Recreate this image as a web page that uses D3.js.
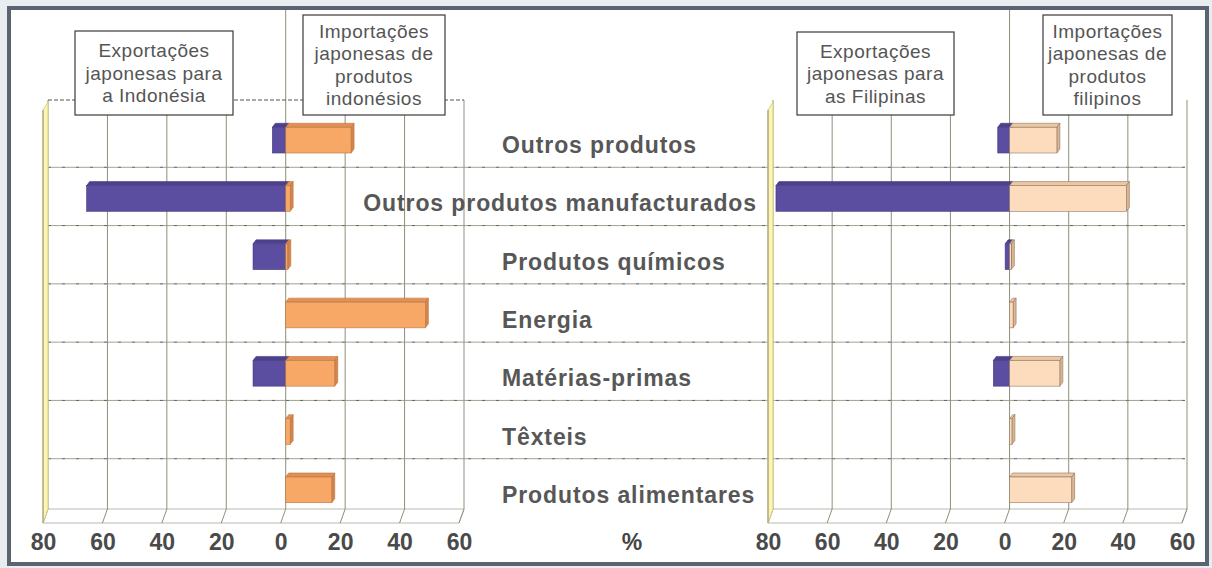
<!DOCTYPE html>
<html>
<head>
<meta charset="utf-8">
<script src="https://cdn.jsdelivr.net/npm/d3@7"></script>
<style>
  body { margin: 0; background: #e9edf0; }
  svg { display: block; }
  text { font-family: "Liberation Sans", Arial, sans-serif; }
</style>
</head>
<body>
<div id="chart"></div>
<script>
// categories, top to bottom
var categories = ["Outros produtos", "Outros produtos manufacturados", "Produtos químicos",
                  "Energia", "Matérias-primas", "Têxteis", "Produtos alimentares"];

// % values
var idnExports = [4.5, 67, 11, 0, 11, 0, 0];
var idnImports = [22, 1.5, 0.7, 47, 16.5, 1.5, 15.5];
var phlExports = [4, 79, 1.5, 0, 5.5, 0, 0];
var phlImports = [16, 39.5, 0.6, 1.2, 17, 0.8, 21];

var tickValues = [-80, -60, -40, -20, 0, 20, 40, 60];

var boxLeftExp = ["Exportações", "japonesas para", "a Indonésia"];
var boxLeftImp = ["Importações", "japonesas de", "produtos", "indonésios"];
var boxRightExp = ["Exportações", "japonesas para", "as Filipinas"];
var boxRightImp = ["Importações", "japonesas de", "produtos", "filipinos"];

var W = 1212, H = 568;
var svg = d3.select('#chart').append('svg').attr('width', W).attr('height', H);

// frame
svg.append('rect').attr('x', 9).attr('y', 8).attr('width', 1198).attr('height', 556)
   .attr('fill', '#fff').attr('stroke', '#5a6470').attr('stroke-width', 4);

var y = d3.scaleBand().domain(categories).range([109, 517]);
var barH = y.step() * 0.51;
var floorBack = 509, floorFront = 523, wallTop = 100, slant = 5;

var panels = [
  {x: d3.scaleLinear().domain([-80, 60]).range([48, 464]), exp: idnExports, imp: idnImports,
   impFill: ['#f7a866', '#e38f55', '#d5844c'], impStroke: '#b8773f', topLine: true},
  {x: d3.scaleLinear().domain([-80, 60]).range([773, 1187]), exp: phlExports, imp: phlImports,
   impFill: ['#fcdcbd', '#eec7a1', '#dcb48e'], impStroke: '#8d7a66', topLine: false}
];

var grid = svg.append('g').attr('class', 'grid');

// horizontal row separators across the whole width
var seps = categories.slice(1).map(function(c){ return y(c); });
grid.selectAll('line.sep').data(seps).enter().append('line')
    .attr('class', 'sep')
    .attr('x1', panels[0].x(-80)).attr('x2', panels[1].x(60) - 2)
    .attr('y1', function(d){ return d; }).attr('y2', function(d){ return d; })
    .attr('stroke', '#a3a392').attr('stroke-width', 1);
grid.selectAll('line.sepd').data(seps).enter().append('line')
    .attr('class', 'sepd')
    .attr('x1', panels[0].x(-80)).attr('x2', panels[1].x(60) - 2)
    .attr('y1', function(d){ return d; }).attr('y2', function(d){ return d; })
    .attr('stroke', '#333').attr('stroke-width', 1).attr('stroke-dasharray', '3,11')
    .attr('opacity', 0.55);

panels.forEach(function(p){
  var x = p.x;
  var g = svg.append('g');

  // floor
  g.append('path')
   .attr('d', 'M' + x(-80) + ',' + floorBack + 'L' + x(60) + ',' + floorBack +
              'L' + (x(60) - slant) + ',' + floorFront + 'L' + (x(-80) - slant) + ',' + floorFront + 'Z')
   .attr('fill', '#fff').attr('stroke', '#b9b9b0').attr('stroke-width', 1);

  // vertical gridlines with floor slant
  g.selectAll('path.vg').data(tickValues).enter().append('path')
   .attr('class', 'vg')
   .attr('d', function(t){
     var top = t === 0 ? 10 : wallTop;
     return 'M' + x(t) + ',' + top + 'L' + x(t) + ',' + floorBack + 'L' + (x(t) - slant) + ',' + floorFront;
   })
   .attr('fill', 'none').attr('stroke', '#8f8f78').attr('stroke-width', 1);

  // back wall top edge
  if (p.topLine) {
    g.append('line').attr('x1', x(-80)).attr('x2', x(60)).attr('y1', wallTop).attr('y2', wallTop)
     .attr('stroke', '#555').attr('stroke-width', 1).attr('stroke-dasharray', '4,2');
  }

  // yellow side wall
  g.append('path')
   .attr('d', 'M' + x(-80) + ',' + (wallTop + 2) + 'L' + x(-80) + ',' + floorBack +
              'L' + (x(-80) - slant) + ',' + floorFront + 'L' + (x(-80) - slant) + ',' + (wallTop + 10) + 'Z')
   .attr('fill', '#fbf5b4').attr('stroke', '#d8d08a').attr('stroke-width', 1);
  g.append('line').attr('x1', x(-80) - slant).attr('x2', x(-80) - slant)
   .attr('y1', wallTop + 10).attr('y2', floorFront).attr('stroke', '#9a9470').attr('stroke-width', 1);

  // 3D bars
  var dx = 3, dy = 4;
  function bar(x0, x1, cy, fills, stroke) {
    var yt = cy - barH / 2, yb = cy + barH / 2;
    g.append('path')
     .attr('d', 'M' + x0 + ',' + (yt + dy) + 'L' + (x0 + dx) + ',' + yt + 'L' + (x1 + dx) + ',' + yt +
                'L' + x1 + ',' + (yt + dy) + 'Z')
     .attr('fill', fills[1]).attr('stroke', stroke).attr('stroke-width', 0.6);
    g.append('path')
     .attr('d', 'M' + x1 + ',' + (yt + dy) + 'L' + (x1 + dx) + ',' + yt + 'L' + (x1 + dx) + ',' + (yb - dy) +
                'L' + x1 + ',' + yb + 'Z')
     .attr('fill', fills[2]).attr('stroke', stroke).attr('stroke-width', 0.6);
    g.append('rect').attr('x', x0).attr('y', yt + dy).attr('width', Math.max(0, x1 - x0))
     .attr('height', barH - dy).attr('fill', fills[0]).attr('stroke', stroke).attr('stroke-width', 0.6);
  }

  categories.forEach(function(c, i){
    var cy = y(c) + y.step() / 2;
    if (p.exp[i] > 0) bar(x(-p.exp[i]), x(0), cy, ['#5b4da0', '#4d418f', '#443a80'], '#433a7e');
    if (p.imp[i] > 0) bar(x(0), x(p.imp[i]), cy, p.impFill, p.impStroke);
  });

  // axis
  var axis = d3.axisBottom(x).tickValues(tickValues).tickFormat(function(d){ return Math.abs(d); }).tickSize(0);
  var ag = svg.append('g').attr('transform', 'translate(' + (-slant) + ',0)').call(axis);
  ag.select('.domain').remove();
  ag.selectAll('text').attr('y', 550).attr('dy', 0)
    .attr('font-size', 23).attr('font-weight', 'bold').attr('fill', '#4a4a4a')
    .attr('font-family', '"Liberation Sans", Arial, sans-serif');
});

// category labels
var lab = svg.append('g');
lab.selectAll('text').data(categories).enter().append('text')
   .attr('x', 502)
   .attr('y', function(c){ return y(c) + y.step() / 2 + 15; })
   .attr('font-size', 23).attr('font-weight', 'bold').attr('letter-spacing', '0.9px')
   .attr('fill', '#575757').text(function(c){ return c; })
   .each(function(){
     var len = this.getComputedTextLength();
     if (502 + len > panels[1].x(-80)) {
       d3.select(this).attr('x', panels[1].x(-80) - 16).attr('text-anchor', 'end');
     }
   });

svg.append('text').attr('x', 632).attr('y', 550).attr('text-anchor', 'middle')
   .attr('font-size', 23).attr('font-weight', 'bold').attr('fill', '#444').text('%');

// annotation boxes
function box(lines, x0, x1, y0, y1) {
  var g = svg.append('g');
  g.append('rect').attr('x', x0).attr('y', y0).attr('width', x1 - x0).attr('height', y1 - y0)
   .attr('fill', '#fff').attr('stroke', '#3a3a3a').attr('stroke-width', 1.2);
  var lh = 22.5, cy = (y0 + y1) / 2, start = cy - (lines.length - 1) * lh / 2;
  g.selectAll('text').data(lines).enter().append('text')
   .attr('x', (x0 + x1) / 2).attr('y', function(d, i){ return start + i * lh; })
   .attr('dy', '0.35em').attr('text-anchor', 'middle')
   .attr('font-size', 19).attr('letter-spacing', '0.5px').attr('fill', '#555')
   .text(function(d){ return d; });
}
box(boxLeftExp, 75, 233, 31, 115);
box(boxLeftImp, 303, 445, 15, 115);
box(boxRightExp, 797, 954, 32, 115);
box(boxRightImp, 1043, 1172, 15, 115);
</script>
</body>
</html>
